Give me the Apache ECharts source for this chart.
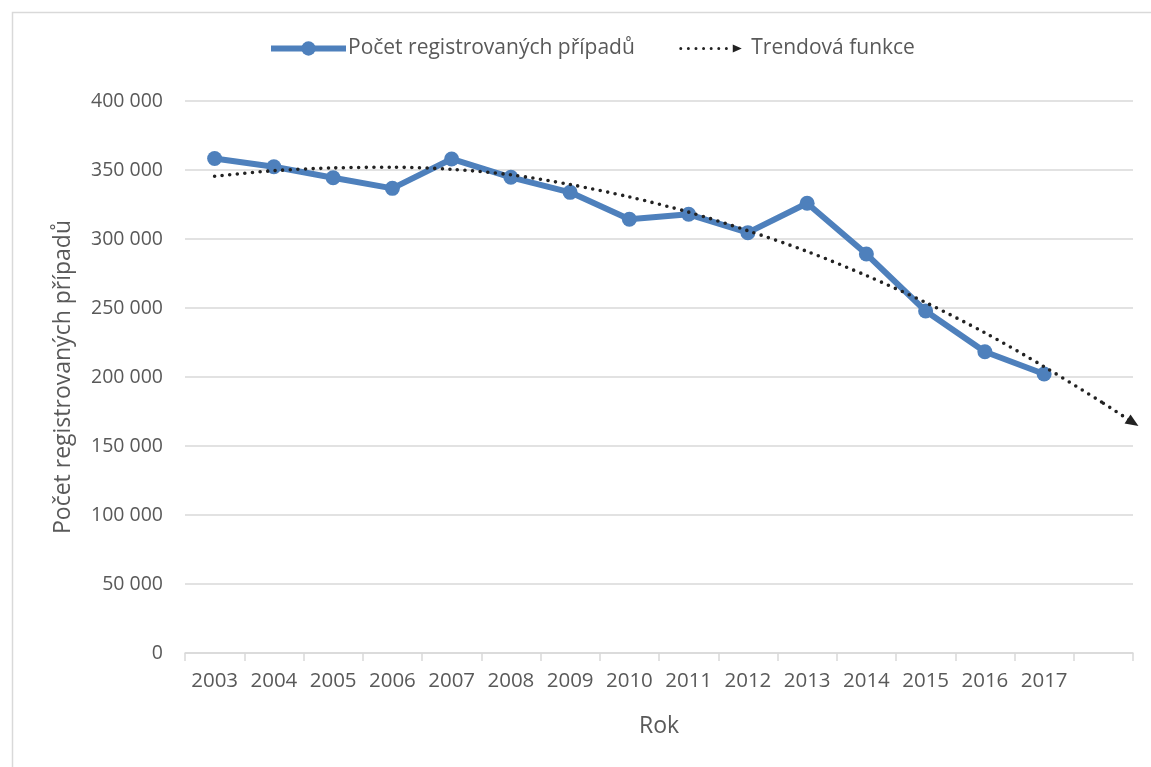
<!DOCTYPE html>
<html>
<head>
<meta charset="utf-8">
<script src="https://cdn.jsdelivr.net/npm/echarts@6/dist/echarts.min.js"></script>
<style>
html,body{margin:0;padding:0;background:#fff;}
#chart{width:1151px;height:767px;}
</style>
</head>
<body>
<div id="chart"></div>
<script>
// ---- data ----
const years = ['2003','2004','2005','2006','2007','2008','2009','2010','2011','2012','2013','2014','2015','2016','2017',''];
const cases = [358300, 352400, 344400, 336700, 358000, 344700, 333800, 314300, 317900, 304600, 325900, 289100, 247800, 218300, 202200];
const trendYears = [2003, 2004, 2005, 2006, 2007, 2008, 2009, 2010, 2011, 2012, 2013, 2014, 2015, 2016, 2017, 2018];
const trendValues = [345500, 349500, 351500, 352000, 350500, 346500, 339500, 330500, 319500, 306000, 291000, 273500, 254000, 232000, 207500, 181000];
const trendEnd = [2018.5, 167000];
const yTicks = [0, 50000, 100000, 150000, 200000, 250000, 300000, 350000, 400000];
const seriesNames = ['Počet registrovaných případů', 'Trendová funkce'];
const axisNames = ['Rok', 'Počet registrovaných případů'];

const FONT = '"Open Sans", "Noto Sans", sans-serif';
const TXT = '#595959';
const GRID = '#d9d9d9';
const BLUE = '#4e80bc';
const DOT = '#222222';

function fmt(v){ return String(v).replace(/\B(?=(\d{3})+(?!\d))/g, ' '); }

// dotted + arrow legend icon
let p = '';
for (let i = 0; i < 7; i++) {
  const cx = 2 + i * 7.6, cy = 9, r = 1.5;
  p += 'M' + (cx - r) + ' ' + cy + 'a' + r + ' ' + r + ' 0 1 0 ' + (2*r) + ' 0a' + r + ' ' + r + ' 0 1 0 ' + (-2*r) + ' 0Z';
}
p += 'M54 5L63 9L54 13Z';
const trendIcon = 'path://M0 0L0.01 0ZM66 18L66.01 18Z' + p;

const chart = echarts.init(document.getElementById('chart'), null, {renderer: 'canvas'});
chart.setOption({
  animation: false,
  backgroundColor: '#ffffff',
  graphic: [{
    type: 'rect', left: 10, top: 10, silent: true,
    shape: {width: 1300, height: 900},
    style: {fill: 'none', stroke: GRID, lineWidth: 1.5}
  }],
  legend: {
    left: 263, top: 33,
    itemWidth: 75, itemHeight: 18, itemGap: 44,
    textStyle: {fontFamily: FONT, fontSize: 21, color: TXT, padding: [0,0,0,-3]},
    data: [
      {name: seriesNames[0], lineStyle: {width: 6, color: BLUE}, itemStyle: {color: BLUE}},
      {name: seriesNames[1], icon: trendIcon, itemStyle: {color: DOT}}
    ]
  },
  grid: {left: 185, right: 18, top: 101, bottom: 114, containLabel: false},
  xAxis: [{
    type: 'category', data: years, boundaryGap: true,
    axisLine: {lineStyle: {color: GRID, width: 1.5}},
    axisTick: {show: true, length: 8, inside: false, lineStyle: {color: GRID, width: 1.5}},
    axisLabel: {fontFamily: FONT, fontSize: 20.5, color: TXT, margin: 18, interval: 0},
    name: axisNames[0], nameLocation: 'middle', nameGap: 62,
    nameTextStyle: {fontFamily: FONT, fontSize: 23, color: TXT}
  }, {
    type: 'value', min: 2002.5, max: 2018.5, show: false
  }],
  yAxis: {
    type: 'value', min: yTicks[0], max: yTicks[yTicks.length-1], interval: yTicks[1]-yTicks[0],
    axisLine: {show: false}, axisTick: {show: false},
    splitLine: {lineStyle: {color: GRID, width: 1.5}},
    axisLabel: {fontFamily: FONT, fontSize: 19.5, color: TXT, margin: 22, formatter: fmt},
    name: axisNames[1], nameLocation: 'middle', nameGap: 110,
    nameTextStyle: {fontFamily: FONT, fontSize: 23, color: TXT}
  },
  series: [{
    name: seriesNames[0], type: 'line', xAxisIndex: 0, data: cases,
    symbol: 'circle', symbolSize: 15, showSymbol: true,
    lineStyle: {color: BLUE, width: 6}, itemStyle: {color: BLUE},
    z: 3
  }, {
    name: seriesNames[1], type: 'line', xAxisIndex: 1,
    data: trendYears.map((y, i) => [y, trendValues[i]]),
    smooth: 0.3, symbol: 'none', clip: false,
    lineStyle: {color: DOT, width: 3.6, type: [0, 7.6], cap: 'round'},
    itemStyle: {color: DOT},
    markLine: {
      silent: true, animation: false,
      symbol: ['none', 'triangle'], symbolSize: [11, 13],
      lineStyle: {color: DOT, width: 3.6, type: [0, 7.6], cap: 'round'},
      label: {show: false},
      data: [[
        {coord: [trendYears[trendYears.length-1], trendValues[trendValues.length-1]]},
        {coord: trendEnd}
      ]]
    },
    z: 4
  }]
});
</script>
</body>
</html>
